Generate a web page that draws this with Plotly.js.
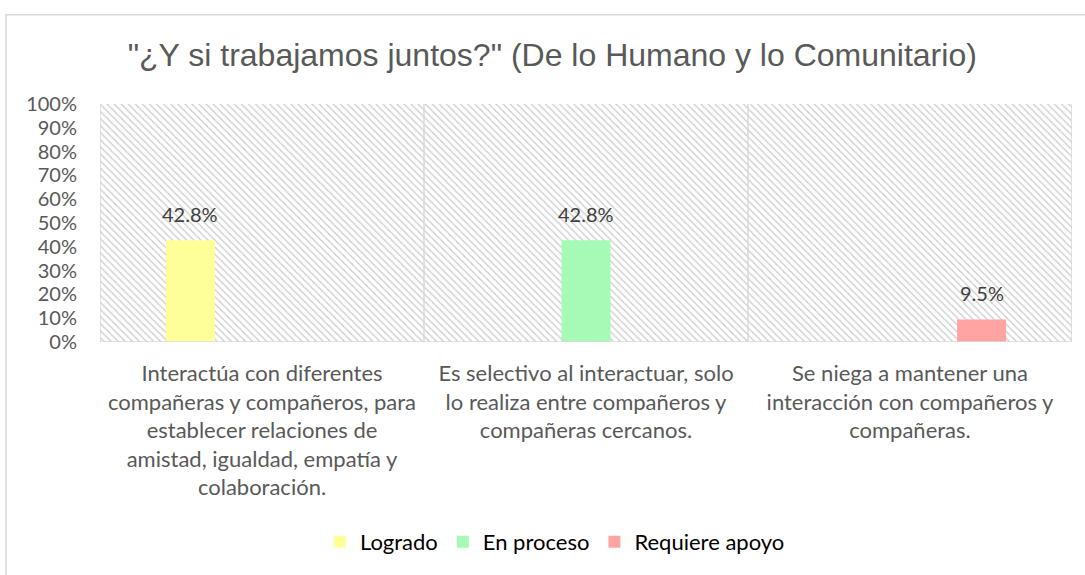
<!DOCTYPE html>
<html>
<head>
<meta charset="utf-8">
<script src="https://cdn.plot.ly/plotly-3.0.1.min.js"></script>
<style>html,body{margin:0;padding:0;background:#fff;}#chart{width:1085px;height:575px;}</style>
</head>
<body>
<div id="chart"></div>
<script>
const chartTitle = '"¿Y si trabajamos juntos?" (De lo Humano y lo Comunitario)';
const categories = [
  'Interactúa con diferentes<br>compañeras y compañeros, para<br>establecer relaciones de<br>amistad, igualdad, empatía y<br>colaboración.',
  'Es selectivo al interactuar, solo<br>lo realiza entre compañeros y<br>compañeras cercanos.',
  'Se niega a mantener una<br>interacción con compañeros y<br>compañeras.'
];
const seriesNames = ['Logrado', 'En proceso', 'Requiere apoyo'];
const logrado = [0.428, 0, 0];
const enProceso = [0, 0.428, 0];
const requiereApoyo = [0, 0, 0.095];
const seriesValues = [logrado, enProceso, requiereApoyo];
const seriesColors = ['#FFFF99', '#A6FAB6', '#FFA3A3'];
const backgroundValues = [1, 1, 1];

const barWidth = 0.151;
const slotStep = 0.221;

const labelFont = "Lato, 'Open Sans', sans-serif";

const traces = [{
  type: 'bar',
  x: categories,
  y: backgroundValues,
  width: 1,
  marker: {
    color: '#ffffff',
    line: {width: 0},
    pattern: {shape: '\\', fgcolor: '#cccccc', bgcolor: '#ffffff', size: 5, solidity: 0.25}
  },
  showlegend: false,
  hoverinfo: 'skip'
}];

const annotations = [];
seriesValues.forEach((vals, s) => {
  const center = (s - 1) * slotStep;
  traces.push({
    type: 'bar',
    name: seriesNames[s],
    x: categories,
    y: vals,
    width: barWidth,
    offset: center - barWidth / 2,
    marker: {color: seriesColors[s], line: {width: 0}}
  });
  vals.forEach((v, i) => {
    if (v > 0) {
      annotations.push({
        x: i + center, y: v, xref: 'x', yref: 'y',
        text: (v * 100).toFixed(1) + '%',
        showarrow: false, yanchor: 'bottom', yshift: 12,
        font: {family: labelFont, size: 20, color: '#404040'}
      });
    }
  });
});

const shapes = [];
[-0.5, 0.5, 1.5, 2.5].forEach(xv => {
  shapes.push({type: 'line', xref: 'x', yref: 'y', x0: xv, x1: xv, y0: 0, y1: 1,
    line: {color: '#d9d9d9', width: 1.5}});
});
shapes.push({type: 'line', xref: 'x', yref: 'y', x0: -0.5, x1: 2.5, y0: 0, y1: 0,
  line: {color: '#d9d9d9', width: 1.5}});
shapes.push({type: 'rect', xref: 'paper', yref: 'paper', x0: -0.0967, x1: 1.03, y0: -1.02, y1: 1.375,
  line: {color: '#d9d9d9', width: 1.5}, fillcolor: 'rgba(0,0,0,0)', layer: 'below'});

const layout = {
  width: 1085, height: 575,
  margin: {l: 100, r: 13, t: 104, b: 231},
  paper_bgcolor: '#ffffff', plot_bgcolor: '#ffffff',
  barmode: 'overlay',
  title: {text: chartTitle, x: 0.509, xanchor: 'center', y: 0.905, yanchor: 'middle',
    font: {family: "'Liberation Sans', Arial, sans-serif", size: 32, color: '#595959'}},
  xaxis: {
    type: 'category', range: [-0.5, 2.5], showgrid: false, zeroline: false, showline: false,
    ticks: '', ticklabelstandoff: 16, tickangle: 0,
    tickfont: {family: labelFont, size: 22, color: '#595959'}, fixedrange: true
  },
  yaxis: {
    range: [0, 1], dtick: 0.1, tick0: 0, tickformat: '.0%', showgrid: false, zeroline: false,
    showline: false, ticks: '', ticklabelstandoff: 22,
    tickfont: {family: labelFont, size: 20, color: '#595959'}, fixedrange: true
  },
  legend: {orientation: 'h', x: 0.468, xanchor: 'center', y: -0.84, yanchor: 'middle',
    font: {family: labelFont, size: 22, color: '#000000'}, itemclick: false},
  annotations: annotations,
  shapes: shapes,
  showlegend: true
};

Plotly.newPlot('chart', traces, layout, {displayModeBar: false, staticPlot: true});
</script>
</body>
</html>
